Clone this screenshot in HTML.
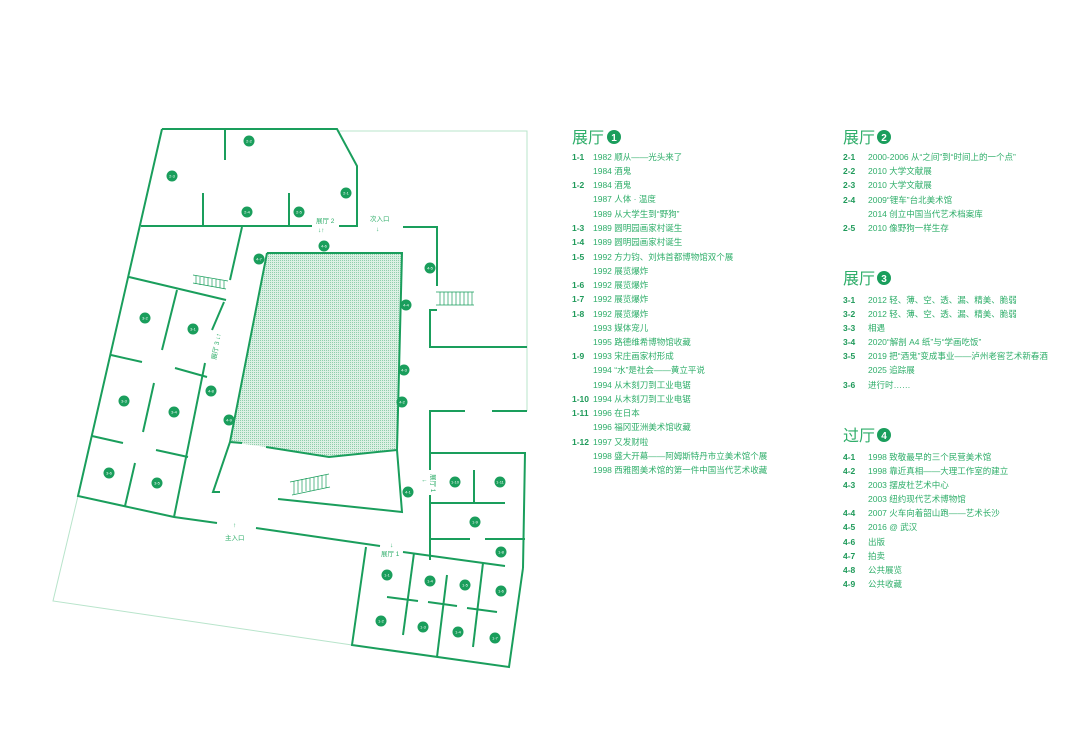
<!DOCTYPE html>
<html><head><meta charset="utf-8"><style>
html,body{margin:0;padding:0;background:#fff;}
svg{display:block;}
.t{font-family:"Liberation Sans","Noto Sans CJK SC",sans-serif;fill:#2fae6a;font-size:8.5px;}
.c{font-family:"Liberation Sans",sans-serif;fill:#1f9a5a;font-size:8.5px;font-weight:bold;}
.h{font-family:"Liberation Sans","Noto Sans CJK SC",sans-serif;fill:#2fae6a;font-size:16px;}
.l{font-family:"Liberation Sans","Noto Sans CJK SC",sans-serif;fill:#2fae6a;font-size:6.5px;}
.n{font-family:"Liberation Sans",sans-serif;fill:#fff;font-size:4px;text-anchor:middle;}
</style></head><body>
<svg width="1080" height="735" viewBox="0 0 1080 735" xmlns="http://www.w3.org/2000/svg">
<defs><pattern id="p" width="2" height="2" patternUnits="userSpaceOnUse"><rect width="2" height="2" fill="#dcf0e4"/><rect width="1" height="1" fill="#8fcfab"/></pattern></defs>
<g fill="none" stroke="#b8e4cb" stroke-width="1">
<polyline points="337,131 527,131 527,411"/>
<polyline points="78,496 53,601 352,645"/>
</g>
<polygon points="267,253 402,253 397,450 329,457 266,447 230,442" fill="url(#p)"/>
<g fill="none" stroke="#1a9e5c" stroke-width="2">
<polyline points="162,129 337,129 357,166 357,226 339,226"/>
<polyline points="162,129 78,496 174,517 217,523"/>
<line x1="225" y1="129" x2="225" y2="160"/>
<line x1="141" y1="226" x2="312" y2="226"/>
<line x1="203" y1="193" x2="203" y2="226"/>
<line x1="289" y1="193" x2="289" y2="226"/>
<polyline points="403,227 437,227 437,286"/>
<polyline points="437,310 430,310 430,347 527,347"/>
<line x1="242" y1="227" x2="230" y2="280"/>
<line x1="129" y1="277" x2="226" y2="300"/>
<line x1="224" y1="302" x2="212" y2="330"/>
<line x1="205" y1="363" x2="174" y2="517"/>
<line x1="177" y1="290" x2="162" y2="350"/>
<line x1="111" y1="355" x2="142" y2="362"/>
<line x1="175" y1="368" x2="207" y2="377"/>
<line x1="154" y1="383" x2="143" y2="432"/>
<line x1="92" y1="436" x2="123" y2="443"/>
<line x1="156" y1="450" x2="188" y2="457"/>
<line x1="135" y1="463" x2="125" y2="506"/>
<line x1="256" y1="528" x2="380" y2="546"/>
<polyline points="267,253 402,253 397,450 402,512 278,499"/>
<polyline points="267,253 230,442 213,492 220,492"/>
<polyline points="230,442 242,443"/>
<polyline points="266,447 329,457 397,450"/>
<polyline points="465,411 430,411 430,470"/>
<line x1="430" y1="495" x2="430" y2="560"/>
<line x1="492" y1="411" x2="527" y2="411"/>
<polyline points="430,453 525,453 523,568"/>
<line x1="430" y1="503" x2="505" y2="503"/>
<line x1="474" y1="470" x2="474" y2="503"/>
<line x1="430" y1="539" x2="470" y2="539"/>
<line x1="485" y1="539" x2="525" y2="539"/>
<polyline points="366,547 352,645 509,667 523,568"/>
<line x1="403" y1="552" x2="505" y2="566"/>
<line x1="414" y1="553" x2="403" y2="635"/>
<line x1="447" y1="575" x2="437" y2="657"/>
<line x1="483" y1="563" x2="473" y2="647"/>
<line x1="387" y1="597" x2="418" y2="601"/>
<line x1="428" y1="602" x2="457" y2="606"/>
<line x1="467" y1="608" x2="497" y2="612"/>
</g>
<g stroke="#1a9e5c" stroke-width="0.7" fill="none">
<path d="M193,275 L228,281 M193,283 L226,289 M196,276 v8 M200,277 v8 M204,277 v8 M208,278 v8 M212,279 v8 M216,279 v8 M220,280 v8 M224,281 v8"/>
<path d="M436,292 h38 M436,305 h38 M440,292 v13 M444,292 v13 M448,292 v13 M452,292 v13 M456,292 v13 M460,292 v13 M464,292 v13 M468,292 v13 M472,292 v13"/>
<path d="M290,482 L329,474 M292,495 L330,487 M294,481 v13 M298,480 v13 M302,479 v13 M306,478 v13 M310,478 v13 M314,477 v13 M318,476 v13 M322,475 v13 M326,475 v13"/>
</g>
<g fill="#1a9e5c">
<circle cx="249" cy="141" r="5.5"/><circle cx="172" cy="176" r="5.5"/><circle cx="346" cy="193" r="5.5"/><circle cx="247" cy="212" r="5.5"/><circle cx="299" cy="212" r="5.5"/><circle cx="324" cy="246" r="5.5"/><circle cx="259" cy="259" r="5.5"/><circle cx="430" cy="268" r="5.5"/><circle cx="406" cy="305" r="5.5"/><circle cx="145" cy="318" r="5.5"/><circle cx="193" cy="329" r="5.5"/><circle cx="404" cy="370" r="5.5"/><circle cx="124" cy="401" r="5.5"/><circle cx="174" cy="412" r="5.5"/><circle cx="211" cy="391" r="5.5"/><circle cx="229" cy="420" r="5.5"/><circle cx="402" cy="402" r="5.5"/><circle cx="109" cy="473" r="5.5"/><circle cx="157" cy="483" r="5.5"/><circle cx="408" cy="492" r="5.5"/><circle cx="455" cy="482" r="5.5"/><circle cx="500" cy="482" r="5.5"/><circle cx="475" cy="522" r="5.5"/><circle cx="501" cy="552" r="5.5"/><circle cx="387" cy="575" r="5.5"/><circle cx="430" cy="581" r="5.5"/><circle cx="465" cy="585" r="5.5"/><circle cx="501" cy="591" r="5.5"/><circle cx="381" cy="621" r="5.5"/><circle cx="423" cy="627" r="5.5"/><circle cx="458" cy="632" r="5.5"/><circle cx="495" cy="638" r="5.5"/>
</g>
<g class="n">
<text x="249" y="142.5">2-2</text><text x="172" y="177.5">2-3</text><text x="346" y="194.5">2-1</text><text x="247" y="213.5">2-4</text><text x="299" y="213.5">2-5</text><text x="324" y="247.5">4-6</text><text x="259" y="260.5">4-7</text><text x="430" y="269.5">4-5</text><text x="406" y="306.5">4-4</text><text x="145" y="319.5">3-2</text><text x="193" y="330.5">3-1</text><text x="404" y="371.5">4-3</text><text x="124" y="402.5">3-3</text><text x="174" y="413.5">3-4</text><text x="211" y="392.5">4-8</text><text x="229" y="421.5">4-9</text><text x="402" y="403.5">4-2</text><text x="109" y="474.5">3-6</text><text x="157" y="484.5">3-5</text><text x="408" y="493.5">4-1</text><text x="455" y="483.5">1-10</text><text x="500" y="483.5">1-11</text><text x="475" y="523.5">1-9</text><text x="501" y="553.5">1-8</text><text x="387" y="576.5">1-1</text><text x="430" y="582.5">1-4</text><text x="465" y="586.5">1-5</text><text x="501" y="592.5">1-6</text><text x="381" y="622.5">1-2</text><text x="423" y="628.5">1-3</text><text x="458" y="633.5">1-4</text><text x="495" y="639.5">1-7</text>
</g>
<g class="l">
<text x="316" y="223">展厅 2</text><text x="318" y="232">↓↑</text>
<text x="370" y="221">次入口</text><text x="376" y="231">↓</text>
<text x="225" y="540">主入口</text><text x="233" y="527">↑</text>
<text x="381" y="556">展厅 1</text><text x="390" y="547">↓</text>
<text transform="translate(216,360) rotate(-80)">展厅 3 ↓↑</text>
<text transform="translate(431,474) rotate(90)">展厅 1</text><text x="421" y="482">←</text>
</g>
<g class="h">
<text x="572" y="143">展厅</text><text x="843" y="143">展厅</text><text x="843" y="284">展厅</text><text x="843" y="441">过厅</text>
</g>
<g fill="#1a9e5c"><circle cx="614" cy="137" r="7"/><circle cx="884" cy="137" r="7"/><circle cx="884" cy="278" r="7"/><circle cx="884" cy="435" r="7"/></g>
<g font-family="Liberation Sans,sans-serif" font-size="10" font-weight="bold" fill="#fff" text-anchor="middle">
<text x="614" y="141">1</text><text x="884" y="141">2</text><text x="884" y="282">3</text><text x="884" y="439">4</text></g>
<g class="c">
<text x="572" y="160">1-1</text><text x="572" y="188">1-2</text><text x="572" y="231">1-3</text><text x="572" y="245">1-4</text><text x="572" y="260">1-5</text><text x="572" y="288">1-6</text><text x="572" y="302">1-7</text><text x="572" y="317">1-8</text><text x="572" y="359">1-9</text><text x="572" y="402">1-10</text><text x="572" y="416">1-11</text><text x="572" y="445">1-12</text>
<text x="843" y="160">2-1</text><text x="843" y="174">2-2</text><text x="843" y="188">2-3</text><text x="843" y="203">2-4</text><text x="843" y="231">2-5</text>
<text x="843" y="303">3-1</text><text x="843" y="317">3-2</text><text x="843" y="331">3-3</text><text x="843" y="345">3-4</text><text x="843" y="359">3-5</text><text x="843" y="388">3-6</text>
<text x="843" y="460">4-1</text><text x="843" y="474">4-2</text><text x="843" y="488">4-3</text><text x="843" y="516">4-4</text><text x="843" y="530">4-5</text><text x="843" y="545">4-6</text><text x="843" y="559">4-7</text><text x="843" y="573">4-8</text><text x="843" y="587">4-9</text>
</g>
<g class="t">
<text x="593" y="160">1982 顺从——光头来了</text><text x="593" y="174">1984 酒鬼</text><text x="593" y="188">1984 酒鬼</text><text x="593" y="202">1987 人体 · 温度</text><text x="593" y="217">1989 从大学生到“野狗”</text><text x="593" y="231">1989 圆明园画家村诞生</text><text x="593" y="245">1989 圆明园画家村诞生</text><text x="593" y="260">1992 方力钧、刘炜首都博物馆双个展</text><text x="593" y="274">1992 展览爆炸</text><text x="593" y="288">1992 展览爆炸</text><text x="593" y="302">1992 展览爆炸</text><text x="593" y="317">1992 展览爆炸</text><text x="593" y="331">1993 媒体宠儿</text><text x="593" y="345">1995 路德维希博物馆收藏</text><text x="593" y="359">1993 宋庄画家村形成</text><text x="593" y="373">1994 “水”是社会——黄立平说</text><text x="593" y="388">1994 从木刻刀到工业电锯</text><text x="593" y="402">1994 从木刻刀到工业电锯</text><text x="593" y="416">1996 在日本</text><text x="593" y="430">1996 福冈亚洲美术馆收藏</text><text x="593" y="445">1997 又发财啦</text><text x="593" y="459">1998 盛大开幕——阿姆斯特丹市立美术馆个展</text><text x="593" y="473">1998 西雅图美术馆的第一件中国当代艺术收藏</text>
<text x="868" y="160">2000-2006 从“之间”到“时间上的一个点”</text><text x="868" y="174">2010 大学文献展</text><text x="868" y="188">2010 大学文献展</text><text x="868" y="203">2009“锂车”台北美术馆</text><text x="868" y="217">2014 创立中国当代艺术档案库</text><text x="868" y="231">2010 像野狗一样生存</text>
<text x="868" y="303">2012 轻、薄、空、透、漏、精美、脆弱</text><text x="868" y="317">2012 轻、薄、空、透、漏、精美、脆弱</text><text x="868" y="331">相遇</text><text x="868" y="345">2020“解剖 A4 纸”与“学画吃饭”</text><text x="868" y="359">2019 把“酒鬼”变成事业——泸州老窖艺术新春酒</text><text x="868" y="373">2025 追踪展</text><text x="868" y="388">进行时……</text>
<text x="868" y="460">1998 致敬最早的三个民营美术馆</text><text x="868" y="474">1998 靠近真相——大理工作室的建立</text><text x="868" y="488">2003 摆皮杜艺术中心</text><text x="868" y="502">2003 纽约现代艺术博物馆</text><text x="868" y="516">2007 火车向着韶山跑——艺术长沙</text><text x="868" y="530">2016 @ 武汉</text><text x="868" y="545">出版</text><text x="868" y="559">拍卖</text><text x="868" y="573">公共展览</text><text x="868" y="587">公共收藏</text>
</g>
</svg>
</body></html>
